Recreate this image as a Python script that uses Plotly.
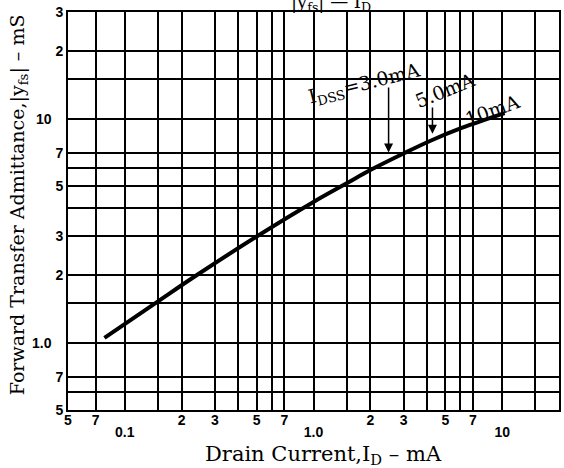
import plotly.graph_objects as go
import math

# Curve data (Drain current mA vs |yfs| mS)
drain_current_ma = [0.078, 0.15, 0.24, 0.5, 1.0, 1.5, 2.0, 3.0, 4.2, 6.1, 10.3]
yfs_ms = [1.05, 1.53, 2.0, 2.98, 4.25, 5.15, 5.9, 7.0, 8.0, 9.1, 10.6]

# Grid / tick values
NB = "&nbsp;"
x_grid = [0.05, 0.07, 0.1, 0.15, 0.2, 0.3, 0.4, 0.5, 0.6, 0.7, 1.0, 1.5, 2, 3, 4, 5, 6, 7, 10, 15, 20]
x_text = ["5", "7", "", "", "2", "3", "", "5", "", "7", "", "", "2", "3", "", "5", "", "7", "", "", "2" + NB * 3]
x_decades = [0.1, 1.0, 10]
x_decade_text = ["0.1", "1.0", "10"]
y_grid = [0.5, 0.6, 0.7, 1.0, 1.5, 2, 3, 4, 5, 6, 7, 10, 15, 20, 30]
y_text = ["5", "", "7", "1.0" + NB * 3, "", "2", "3", "", "5", "", "7", "10" + NB * 3, "", "2", "3"]

# IDSS labels and arrows
idss_labels = ["I<sub>DSS</sub>=3.0mA", "5.0mA", "10mA"]
idss_label_x = [1.85, 5.0, 8.85]
idss_label_y = [14.3, 13.4, 11.0]
idss_label_angle = [-14, -22, -20]
arrow_x = [2.5, 4.27]
arrow_tail_y = [14.0, 11.4]
arrow_tip_y = [7.07, 8.58]

SERIF = "DejaVu Serif"
fig = go.Figure()
fig.add_trace(go.Scatter(
    x=drain_current_ma, y=yfs_ms, mode="lines",
    line=dict(color="black", width=4, shape="spline"),
    showlegend=False, hoverinfo="skip"))
# invisible companion trace so the decade-label x axis is drawn
fig.add_trace(go.Scatter(
    x=drain_current_ma, y=yfs_ms, mode="lines", xaxis="x2", yaxis="y",
    line=dict(color="rgba(0,0,0,0)", width=0),
    showlegend=False, hoverinfo="skip"))

anns = []
for t, x, y, a in zip(idss_labels, idss_label_x, idss_label_y, idss_label_angle):
    anns.append(dict(x=math.log10(x), y=math.log10(y), xref="x", yref="y", text=t,
                     showarrow=False, textangle=a,
                     font=dict(family=SERIF, size=19, color="black")))
for x, ty, hy in zip(arrow_x, arrow_tail_y, arrow_tip_y):
    anns.append(dict(x=math.log10(x), y=math.log10(hy), xref="x", yref="y",
                     ax=math.log10(x), ay=math.log10(ty), axref="x", ayref="y",
                     text="", showarrow=True, arrowhead=2, arrowsize=1.2,
                     arrowwidth=1.5, arrowcolor="black"))
# axis titles
anns.append(dict(x=-0.1014, y=0.515, xref="paper", yref="paper", textangle=-90,
                 xanchor="center", yanchor="middle",
                 text="Forward Transfer Admittance,|y<sub>fs</sub>| – mS", showarrow=False,
                 font=dict(family=SERIF, size=19, color="black")))
anns.append(dict(x=0.521, y=-0.113, xref="paper", yref="paper",
                 xanchor="center", yanchor="middle",
                 text="Drain Current,I<sub>D</sub> – mA", showarrow=False,
                 font=dict(family=SERIF, size=21, color="black")))
# partially visible chart title at top
anns.append(dict(x=0.535, y=1.022, xref="paper", yref="paper",
                 xanchor="center", yanchor="middle",
                 text="|y<sub>fs</sub>| — I<sub>D</sub>", showarrow=False,
                 font=dict(family=SERIF, size=18, color="black")))

tickfont = dict(family="Liberation Sans", size=14, color="black", weight="bold")
axis_common = dict(type="log", showgrid=True, gridcolor="black", gridwidth=1.6,
                   showline=True, linecolor="black", linewidth=2, mirror=True,
                   ticks="", zeroline=False, tickfont=tickfont)
xr = [math.log10(0.05), math.log10(20)]
yr = [math.log10(0.5), math.log10(30)]

fig.update_layout(
    width=564, height=468,
    margin=dict(l=68, r=3, t=12, b=58),
    paper_bgcolor="white", plot_bgcolor="white",
    xaxis=dict(range=xr, tickmode="array", tickvals=x_grid, ticktext=x_text,
               ticklabelstandoff=-4, **axis_common),
    yaxis=dict(range=yr, tickmode="array", tickvals=y_grid, ticktext=y_text, **axis_common),
    xaxis2=dict(type="log", range=xr, overlaying="x", side="bottom", anchor="y",
                tickmode="array", tickvals=x_decades, ticktext=x_decade_text,
                showgrid=False, showline=False, ticks="", zeroline=False,
                ticklabelstandoff=12, tickfont=tickfont),
    annotations=anns,
)
fig.write_html("out.html", config={"displayModeBar": False},
               post_script="document.body.style.margin='0';")
